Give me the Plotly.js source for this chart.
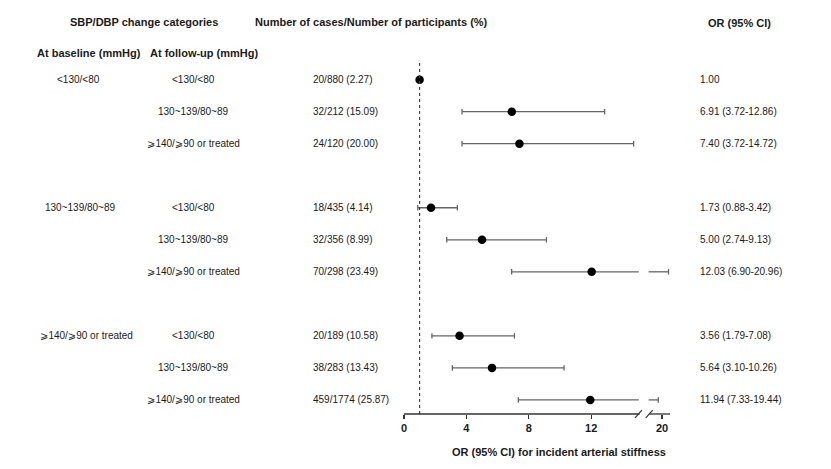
<!DOCTYPE html>
<html>
<head>
<meta charset="utf-8">
<script src="https://cdn.plot.ly/plotly-3.0.1.min.js"></script>
<style>html,body{margin:0;padding:0;background:#fff;}#chart{width:831px;height:469px;}</style>
</head>
<body>
<div id="chart"></div>
<script>
// ---------- data ----------
var baselineGroups = ["<130/<80", "130~139/80~89", "⩾140/⩾90 or treated"];
var followUpCats = ["<130/<80", "130~139/80~89", "⩾140/⩾90 or treated"];
var casesText = ["20/880 (2.27)", "32/212 (15.09)", "24/120 (20.00)",
                 "18/435 (4.14)", "32/356 (8.99)", "70/298 (23.49)",
                 "20/189 (10.58)", "38/283 (13.43)", "459/1774 (25.87)"];
var orValues = [1.00, 6.91, 7.40, 1.73, 5.00, 12.03, 3.56, 5.64, 11.94];
var ciLower  = [null, 3.72, 3.72, 0.88, 2.74, 6.90, 1.79, 3.10, 7.33];
var ciUpper  = [null, 12.86, 14.72, 3.42, 9.13, 20.96, 7.08, 10.26, 19.44];
var tickValues = [0, 4, 8, 12, 20];

// ---------- broken-axis mapping ----------
var BREAK_END = 15.05, RESUME_AT = 15.68, RESUME_VAL = 18, COMPRESS = 0.43;
function disp(v){ return v <= BREAK_END ? v : RESUME_AT + (v - RESUME_VAL) * COMPRESS; }

// geometry
var L = 404, R = 161, T = 55, B = 55, W = 831 - L - R, H = 469 - T - B;
var XR = [0, 17.05];
function px2paper(px){ return (px - L) / W; }
function py2paper(py){ return (469 - B - py) / H; }

var FONT = '"Liberation Sans", Arial, "DejaVu Sans", Helvetica, sans-serif';
var TXT = '#1a1a1a';

// row positions
var rowY = [];
for (var g = 0; g < 3; g++) for (var j = 0; j < 3; j++) rowY.push(g * 4 + j);

// ---------- traces ----------
var ciX = [], ciY = [];
var CAP = 0.085;
for (var i = 0; i < orValues.length; i++) {
  if (ciLower[i] == null) continue;
  var y = rowY[i], lo = ciLower[i], hi = ciUpper[i];
  if (hi > BREAK_END) {
    ciX.push(disp(lo), BREAK_END, null, RESUME_AT, disp(hi), null);
    ciY.push(y, y, null, y, y, null);
  } else {
    ciX.push(disp(lo), disp(hi), null);
    ciY.push(y, y, null);
  }
  ciX.push(disp(lo), disp(lo), null, disp(hi), disp(hi), null);
  ciY.push(y - CAP, y + CAP, null, y - CAP, y + CAP, null);
}
var ciTrace = {x: ciX, y: ciY, mode: 'lines', type: 'scatter',
  line: {color: '#666', width: 1.3}, hoverinfo: 'skip', showlegend: false};
var ptTrace = {x: orValues.map(disp), y: rowY, mode: 'markers', type: 'scatter',
  marker: {color: '#000', size: 8.5}, showlegend: false, cliponaxis: false};

// ---------- annotations ----------
var ann = [];
function addText(text, px, yv, anchor, bold, size, yref){
  ann.push({text: bold ? '<b>' + text + '</b>' : text, x: px2paper(px), xref: 'paper',
    y: yv, yref: yref || 'y', xanchor: anchor, yanchor: 'middle', showarrow: false,
    font: {family: FONT, size: size || 10, color: TXT}});
}

addText('SBP/DBP change categories', 144, py2paper(22), 'center', true, 11, 'paper');
addText('Number of cases/Number of participants (%)', 253, py2paper(22), 'left', true, 11, 'paper');
addText('OR (95% CI)', 706, py2paper(23), 'left', true, 11, 'paper');
addText('At baseline (mmHg)', 35, py2paper(53), 'left', true, 11, 'paper');
addText('At follow-up (mmHg)', 148, py2paper(53), 'left', true, 11, 'paper');

var baseCenters = [78, 80, 86];
for (var g2 = 0; g2 < baselineGroups.length; g2++) {
  addText(baselineGroups[g2], baseCenters[g2], rowY[g2 * 3], 'center', false, 10);
}
for (var k = 0; k < orValues.length; k++) {
  addText(followUpCats[k % 3], 193, rowY[k], 'center', false, 10);
  addText(casesText[k], 311, rowY[k], 'left', false, 10);
  var t = orValues[k].toFixed(2);
  if (ciLower[k] != null) t += ' (' + ciLower[k].toFixed(2) + '-' + ciUpper[k].toFixed(2) + ')';
  addText(t, 698, rowY[k], 'left', false, 10);
}
addText('OR (95% CI) for incident arterial stiffness', 559, py2paper(452), 'center', true, 11, 'paper');

// ---------- shapes ----------
var shapes = [];
// reference dotted line at OR = 1
shapes.push({type: 'line', xref: 'x', yref: 'paper', x0: 1, x1: 1, y0: 0, y1: py2paper(61),
  line: {color: '#444', width: 1.2, dash: 'dot'}});
// broken axis line
shapes.push({type: 'line', xref: 'x', yref: 'paper', x0: 0, x1: 15.1, y0: 0, y1: 0,
  line: {color: '#333', width: 1.3}});
shapes.push({type: 'line', xref: 'x', yref: 'paper', x0: 15.72, x1: 17.05, y0: 0, y1: 0,
  line: {color: '#333', width: 1.3}});
// break slashes
[15.03, 15.72].forEach(function(c){
  shapes.push({type: 'line', xref: 'x', yref: 'paper', x0: c - 0.22, x1: c + 0.22,
    y0: -0.011, y1: 0.011, line: {color: '#333', width: 1.2}});
});

var layout = {
  width: 831, height: 469,
  margin: {l: L, r: R, t: T, b: B, pad: 0},
  paper_bgcolor: '#fff', plot_bgcolor: '#fff',
  showlegend: false,
  xaxis: {range: XR, showgrid: false, zeroline: false, showline: false,
    tickmode: 'array', tickvals: tickValues.map(disp), ticktext: tickValues.map(function(v){return '<b>' + v + '</b>';}),
    ticks: 'outside', ticklen: 4, tickwidth: 1.2, tickcolor: '#333',
    tickfont: {family: FONT, size: 11, color: TXT}, fixedrange: true},
  yaxis: {range: [10.44, -0.77], showgrid: false, zeroline: false, showline: false,
    showticklabels: false, ticks: '', fixedrange: true},
  annotations: ann,
  shapes: shapes
};

Plotly.newPlot('chart', [ciTrace, ptTrace], layout, {displayModeBar: false, staticPlot: true});
</script>
</body>
</html>
